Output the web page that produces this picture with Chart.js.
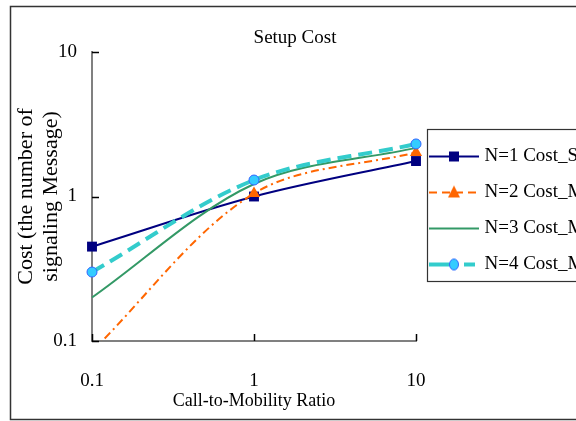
<!DOCTYPE html>
<html><head><meta charset="utf-8">
<script src="https://cdn.jsdelivr.net/npm/chart.js@4"></script>
<style>html,body{margin:0;padding:0;overflow:hidden;background:#fff;width:576px;height:421px}canvas{display:block}</style>
</head><body>
<canvas id="c" width="590" height="421"></canvas>
<script>
const ratio = [0.1, 1, 10];
const costN1 = [0.45, 1.0, 1.76];
const costN2 = [0.085, 1.05, 2.02];
const costN3 = [0.2, 1.22, 2.17];
const costN4 = [0.3, 1.3, 2.31];
const seriesNames = ['N=1 Cost_S', 'N=2 Cost_M', 'N=3 Cost_M', 'N=4 Cost_M'];
const tickValues = [0.1, 1, 10];
const tickLabels = ['0.1', '1', '10'];
const chartTitle = 'Setup Cost';
const xTitle = 'Call-to-Mobility Ratio';
const yTitle = ['Cost (the number of', 'signaling Message)'];

const FAM = "'Liberation Serif', 'Times New Roman', serif";
Chart.defaults.color = '#000';

function pts(vals) { return ratio.map((x, i) => ({x: x, y: vals[i]})); }

function sample(kind) {
  const c = document.createElement('canvas');
  c.width = 50; c.height = 18;
  const g = c.getContext('2d');
  const cy = 9;
  if (kind === 0) {
    g.strokeStyle = '#000080'; g.lineWidth = 2;
    g.beginPath(); g.moveTo(0, cy); g.lineTo(50, cy); g.stroke();
    g.fillStyle = '#000080'; g.fillRect(20, cy - 5, 10, 10);
  } else if (kind === 1) {
    g.strokeStyle = '#FF6600'; g.lineWidth = 2; g.setLineDash([8, 5]);
    g.beginPath(); g.moveTo(0, cy); g.lineTo(50, cy); g.stroke();
    g.setLineDash([]);
    g.fillStyle = '#FF6600';
    g.beginPath(); g.moveTo(25, cy - 7); g.lineTo(31, cy + 5); g.lineTo(19, cy + 5); g.closePath(); g.fill();
  } else if (kind === 2) {
    g.strokeStyle = '#339966'; g.lineWidth = 2;
    g.beginPath(); g.moveTo(0, cy); g.lineTo(50, cy); g.stroke();
  } else {
    g.strokeStyle = '#33CCCC'; g.lineWidth = 4;
    g.beginPath(); g.moveTo(0, cy); g.lineTo(22, cy); g.moveTo(35, cy); g.lineTo(46, cy); g.stroke();
    g.fillStyle = '#33CCFF'; g.strokeStyle = '#3366FF'; g.lineWidth = 1;
    g.beginPath(); g.ellipse(25, cy, 4.5, 5.5, 0, 0, Math.PI * 2); g.fill(); g.stroke();
  }
  return c;
}
const samples = [sample(0), sample(1), sample(2), sample(3)];

const bgPlugin = {
  id: 'bg',
  beforeDraw(chart) {
    const ctx = chart.ctx;
    ctx.save();
    ctx.fillStyle = '#fff';
    ctx.fillRect(0, 0, chart.width, chart.height);
    ctx.strokeStyle = '#333';
    ctx.lineWidth = 1.5;
    ctx.strokeRect(10.5, 6.5, chart.width + 40, chart.height - 8);
    ctx.restore();
  },
  afterDraw(chart) {
    const ctx = chart.ctx;
    const xs = chart.scales.x, ys = chart.scales.y, a = chart.chartArea;
    ctx.save();
    ctx.strokeStyle = '#000';
    ctx.lineWidth = 1.5;
    ctx.beginPath();
    tickValues.forEach(v => {
      const px = Math.round(xs.getPixelForValue(v)) + 0.5;
      ctx.moveTo(px, a.bottom); ctx.lineTo(px, a.bottom - 7);
      const py = Math.round(ys.getPixelForValue(v)) + 0.5;
      ctx.moveTo(a.left, py); ctx.lineTo(a.left + 7, py);
    });
    ctx.stroke();
    const lg = chart.legend, hb = lg.legendHitBoxes;
    if (hb && hb.length) {
      const top = hb[0].top - 18;
      const last = hb[hb.length - 1];
      const bottom = last.top + last.height + 7;
      ctx.strokeStyle = '#333';
      ctx.lineWidth = 1.2;
      ctx.strokeRect(Math.round(lg.left + 11) + 0.5, Math.round(top) + 0.5, 300, Math.round(bottom - top));
    }
    ctx.restore();
  }
};

const clipBox = {left: 12, top: 12, right: 12, bottom: 0};

new Chart(document.getElementById('c'), {
  type: 'line',
  data: {
    datasets: [
      {label: seriesNames[0], data: pts(costN1), borderColor: '#000080', backgroundColor: '#000080',
       borderWidth: 2, pointStyle: 'rect', pointRadius: 7, pointBorderWidth: 0, order: 4, clip: clipBox},
      {label: seriesNames[1], data: pts(costN2), borderColor: '#FF6600', backgroundColor: '#FF6600',
       borderWidth: 2, borderDash: [8, 4, 2, 4], pointStyle: 'triangle', pointRadius: 7, pointBorderWidth: 0, order: 3, clip: clipBox},
      {label: seriesNames[2], data: pts(costN3), borderColor: '#339966', backgroundColor: '#339966',
       borderWidth: 2, pointRadius: 0, order: 2, clip: clipBox},
      {label: seriesNames[3], data: pts(costN4), borderColor: '#33CCCC', backgroundColor: '#33CCFF',
       borderWidth: 4, borderDash: [14, 7], pointStyle: 'circle', pointRadius: 5, pointBorderWidth: 1,
       pointBorderColor: '#3366FF', pointBackgroundColor: '#33CCFF', order: 1, clip: clipBox}
    ]
  },
  options: {
    responsive: false,
    animation: false,
    layout: {padding: 0},
    elements: {line: {tension: 0.33, fill: false}},
    scales: {
      x: {
        type: 'logarithmic', min: 0.1, max: 10,
        afterBuildTicks: s => { s.ticks = tickValues.map(v => ({value: v})); },
        afterFit: s => { s.height = 80; },
        ticks: {callback: (v, i) => tickLabels[i], padding: 29, font: {family: FAM, size: 19}, color: '#000',
                maxRotation: 0, autoSkip: false},
        grid: {display: false, drawTicks: false},
        border: {display: true, color: '#808080', width: 2},
        title: {display: true, text: xTitle, color: '#000', font: {family: FAM, size: 18, lineHeight: 1.2},
                padding: {top: 0, bottom: 9.2}}
      },
      y: {
        type: 'logarithmic', min: 0.1, max: 10,
        afterBuildTicks: s => { s.ticks = tickValues.map(v => ({value: v})); },
        afterFit: s => { s.width = 92; },
        ticks: {callback: (v, i) => tickLabels[i], padding: 15, font: {family: FAM, size: 19}, color: '#000', autoSkip: false},
        grid: {display: false, drawTicks: false},
        border: {display: true, color: '#808080', width: 2},
        title: {display: true, text: yTitle, color: '#000', font: {family: FAM, size: 22, lineHeight: 1.136},
                padding: {top: 13.5, bottom: 0}}
      }
    },
    plugins: {
      title: {display: true, text: chartTitle, color: '#000',
              font: {family: FAM, size: 19, weight: 'normal', lineHeight: 1.2},
              padding: {top: 26.6, bottom: 2.6}},
      legend: {
        position: 'right',
        maxWidth: 174,
        labels: {
          usePointStyle: true, pointStyleWidth: 42, padding: 17, color: '#000',
          font: {family: FAM, size: 19},
          sort: (a, b) => a.datasetIndex - b.datasetIndex,
          generateLabels: chart => {
            const items = Chart.defaults.plugins.legend.labels.generateLabels(chart);
            items.forEach(it => { it.pointStyle = samples[it.datasetIndex]; it.fontColor = '#000'; });
            return items;
          }
        }
      },
      tooltip: {enabled: false}
    }
  },
  plugins: [bgPlugin]
});
</script>
</body></html>
